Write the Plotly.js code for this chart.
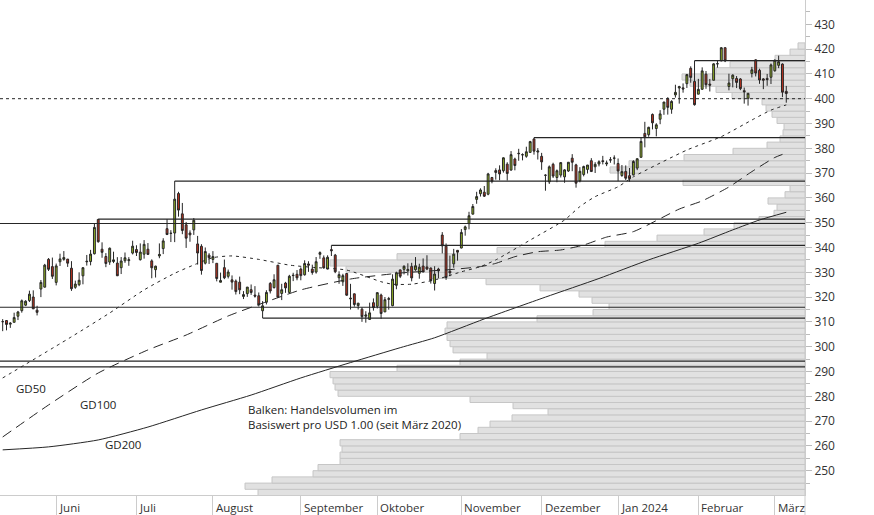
<!DOCTYPE html>
<html><head><meta charset="utf-8">
<script src="https://cdn.plot.ly/plotly-3.0.1.min.js"></script>
<style>html,body{margin:0;padding:0;background:#fff}#chart{width:874px;height:515px}</style>
</head><body><div id="chart"></div>
<script>
// ---------- Daily candles (USD) ----------
const dates = ['2023-05-11','2023-05-12','2023-05-15','2023-05-16','2023-05-17','2023-05-18','2023-05-19','2023-05-22','2023-05-23','2023-05-24','2023-05-25','2023-05-26','2023-05-30','2023-05-31',
'2023-06-01','2023-06-02','2023-06-05','2023-06-06','2023-06-07','2023-06-08','2023-06-09','2023-06-12','2023-06-13','2023-06-14','2023-06-15','2023-06-16','2023-06-20','2023-06-21','2023-06-22','2023-06-23','2023-06-26','2023-06-27','2023-06-28','2023-06-29','2023-06-30',
'2023-07-03','2023-07-05','2023-07-06','2023-07-07','2023-07-10','2023-07-11','2023-07-12','2023-07-13','2023-07-14','2023-07-17','2023-07-18','2023-07-19','2023-07-20','2023-07-21','2023-07-24','2023-07-25','2023-07-26','2023-07-27','2023-07-28','2023-07-31',
'2023-08-01','2023-08-02','2023-08-03','2023-08-04','2023-08-07','2023-08-08','2023-08-09','2023-08-10','2023-08-11','2023-08-14','2023-08-15','2023-08-16','2023-08-17','2023-08-18','2023-08-21','2023-08-22','2023-08-23','2023-08-24','2023-08-25','2023-08-28','2023-08-29','2023-08-30','2023-08-31',
'2023-09-01','2023-09-05','2023-09-06','2023-09-07','2023-09-08','2023-09-11','2023-09-12','2023-09-13','2023-09-14','2023-09-15','2023-09-18','2023-09-19','2023-09-20','2023-09-21','2023-09-22','2023-09-25','2023-09-26','2023-09-27','2023-09-28','2023-09-29',
'2023-10-02','2023-10-03','2023-10-04','2023-10-05','2023-10-06','2023-10-09','2023-10-10','2023-10-11','2023-10-12','2023-10-13','2023-10-16','2023-10-17','2023-10-18','2023-10-19','2023-10-20','2023-10-23','2023-10-24','2023-10-25','2023-10-26','2023-10-27','2023-10-30','2023-10-31',
'2023-11-01','2023-11-02','2023-11-03','2023-11-06','2023-11-07','2023-11-08','2023-11-09','2023-11-10','2023-11-13','2023-11-14','2023-11-15','2023-11-16','2023-11-17','2023-11-20','2023-11-21','2023-11-22','2023-11-24','2023-11-27','2023-11-28','2023-11-29','2023-11-30',
'2023-12-01','2023-12-04','2023-12-05','2023-12-06','2023-12-07','2023-12-08','2023-12-11','2023-12-12','2023-12-13','2023-12-14','2023-12-15','2023-12-18','2023-12-19','2023-12-20','2023-12-21','2023-12-22','2023-12-26','2023-12-27','2023-12-28','2023-12-29',
'2024-01-02','2024-01-03','2024-01-04','2024-01-05','2024-01-08','2024-01-09','2024-01-10','2024-01-11','2024-01-12','2024-01-16','2024-01-17','2024-01-18','2024-01-19','2024-01-22','2024-01-23','2024-01-24','2024-01-25','2024-01-26','2024-01-29','2024-01-30','2024-01-31',
'2024-02-01','2024-02-02','2024-02-05','2024-02-06','2024-02-07','2024-02-08','2024-02-09','2024-02-12','2024-02-13','2024-02-14','2024-02-15','2024-02-16','2024-02-20','2024-02-21','2024-02-22','2024-02-23','2024-02-26','2024-02-27','2024-02-28','2024-02-29',
'2024-03-01','2024-03-04','2024-03-05','2024-03-06'];

const open = [310.10,310.55,309.10,309.83,312.29,314.53,316.74,318.60,320.03,314.73,323.24,324.02,335.23,332.29,
325.93,334.25,335.22,335.33,331.65,323.94,324.99,328.58,334.47,334.34,337.48,351.32,339.31,336.37,334.12,334.36,333.72,331.86,334.66,334.71,337.75,
339.19,335.09,337.30,339.32,334.60,331.06,336.60,339.56,347.59,345.68,345.83,361.75,353.57,349.15,345.85,347.11,341.44,340.48,333.67,336.92,
335.19,333.63,326.00,331.88,328.37,326.96,326.47,326.02,320.26,321.39,323.00,320.80,320.54,314.49,317.93,325.50,323.82,332.85,321.47,325.66,321.88,328.67,329.20,
331.31,329.00,333.38,331.29,330.09,337.24,335.82,331.31,339.15,336.92,327.80,326.17,329.51,319.26,321.32,316.59,315.13,312.30,310.99,317.75,
316.28,320.83,314.03,319.09,316.55,324.75,330.96,331.21,330.57,332.38,331.05,329.59,332.49,332.16,331.72,325.47,331.30,345.02,340.54,330.43,333.41,338.85,
339.79,347.24,349.63,353.45,359.40,361.68,362.30,361.49,368.22,371.01,371.28,370.96,373.61,371.22,375.67,378.00,377.33,376.78,378.35,383.76,378.49,
376.76,369.10,366.45,373.54,368.23,369.20,368.48,370.85,376.02,373.31,366.85,369.45,371.49,375.00,372.56,373.68,375.00,373.69,375.37,376.00,
373.86,369.01,370.67,368.97,369.30,372.01,376.37,386.00,385.49,393.66,387.98,391.72,395.76,400.02,395.75,401.54,404.32,404.37,406.06,412.26,406.96,
401.83,403.81,409.90,405.88,407.44,414.05,415.25,420.56,404.94,408.07,408.14,407.96,403.24,400.17,410.19,415.67,411.46,407.99,408.18,408.64,
411.27,413.44,413.96,402.97];

const high = [311.12,310.65,309.90,313.71,314.43,319.04,318.75,322.59,322.72,316.50,326.90,333.40,335.74,335.94,
333.53,337.50,338.56,335.37,334.49,326.64,329.99,332.10,336.99,339.04,349.84,351.47,342.08,337.73,340.00,338.31,336.11,336.15,337.98,336.11,342.73,
340.90,341.65,342.99,341.79,335.23,332.66,341.65,343.74,351.43,346.99,366.78,362.46,357.97,350.30,346.92,351.89,344.67,341.33,340.01,337.70,
338.54,333.63,329.88,335.14,331.11,328.75,327.11,328.26,322.41,324.06,325.09,324.42,321.87,318.38,322.77,326.08,329.20,332.98,325.36,326.15,328.98,329.81,330.91,
331.99,334.85,334.46,333.08,336.16,338.42,336.79,336.85,340.86,337.40,330.40,329.39,329.59,325.35,321.45,317.67,315.88,314.30,317.75,319.47,
321.88,321.39,320.04,320.08,329.19,330.24,331.10,332.82,333.63,333.83,336.14,333.46,335.59,336.88,331.92,332.45,331.84,346.20,341.63,336.72,339.45,339.00,
347.42,348.83,354.39,357.54,362.46,363.87,364.79,370.10,368.47,371.95,373.13,376.35,374.37,378.87,376.22,379.79,377.97,380.64,383.00,384.30,380.09,
378.16,369.52,373.08,374.18,371.45,374.46,371.60,374.42,377.64,373.76,372.40,373.00,373.26,376.03,374.41,375.18,376.94,375.06,376.46,377.16,
375.90,373.26,373.10,372.06,375.20,375.99,384.17,390.68,388.68,394.03,390.11,395.40,398.67,400.62,399.38,405.63,405.20,406.17,409.98,413.05,415.32,
408.00,412.65,411.16,407.97,414.30,415.56,420.82,420.74,410.07,409.84,409.13,408.29,404.49,402.29,412.83,415.86,412.08,408.30,409.98,414.20,
415.87,417.35,414.25,405.16];

const low = [306.26,306.60,307.59,309.83,310.74,313.72,316.37,318.01,315.25,312.61,320.00,323.88,330.52,327.33,
324.72,332.55,334.66,332.17,322.50,323.35,324.41,325.16,332.71,332.81,337.20,341.95,335.86,332.07,333.00,333.70,328.49,329.30,333.81,332.62,337.20,
336.57,334.73,335.50,337.00,327.59,327.89,335.67,337.34,345.00,342.20,342.17,352.44,345.37,339.83,342.31,345.07,333.11,329.05,333.17,333.36,
333.70,326.36,325.95,327.24,327.52,323.00,321.05,321.18,319.21,320.08,320.90,319.80,316.21,311.55,317.04,321.46,323.46,319.96,318.80,321.72,321.88,326.45,326.78,
326.78,328.66,330.18,329.03,329.46,335.43,331.48,331.17,336.57,329.65,325.36,324.51,320.51,315.00,316.15,315.00,310.02,309.69,310.77,314.54,
315.42,311.21,314.00,314.93,316.30,323.16,327.67,329.14,328.72,326.36,330.60,327.41,330.66,330.91,325.45,322.66,327.60,337.62,326.94,328.40,331.83,334.69,
339.65,344.77,347.33,353.35,357.63,360.55,360.36,361.07,365.90,367.35,367.11,370.18,367.00,371.00,371.12,374.97,375.14,376.20,378.16,377.44,375.47,
371.31,362.90,365.62,368.03,366.32,368.23,366.10,370.46,370.77,364.13,366.28,368.68,369.84,370.53,370.04,372.71,373.50,372.81,374.16,373.48,
366.77,368.51,367.17,366.50,369.01,371.19,376.32,380.38,384.65,387.62,384.81,389.72,393.50,393.59,393.93,400.45,398.01,402.43,404.33,406.45,397.21,
401.80,403.56,403.99,402.91,407.40,412.53,415.09,414.75,403.39,404.57,404.29,403.44,398.01,397.22,408.57,408.97,406.00,403.85,405.22,405.92,
410.88,412.32,400.64,398.39];

const close = [310.11,308.97,309.46,311.74,314.00,318.52,318.34,321.18,315.26,313.85,325.92,332.89,331.21,328.39,
332.58,335.40,335.94,333.68,323.38,325.26,326.79,331.85,334.29,337.34,348.10,342.33,338.05,333.56,339.71,335.02,328.60,334.57,335.85,335.05,340.54,
337.99,338.15,341.27,337.22,331.83,332.47,337.20,342.66,345.24,345.73,359.49,355.08,346.87,343.77,345.11,350.98,337.77,330.72,338.37,335.92,
336.34,327.50,326.66,327.78,330.11,326.05,322.23,322.93,321.01,324.04,321.86,320.40,316.88,316.48,321.88,322.46,327.00,319.97,322.98,323.70,328.41,328.79,327.76,
328.66,333.55,332.88,329.91,334.27,337.94,331.77,336.06,338.70,330.22,329.06,328.65,320.77,319.53,317.01,317.54,312.14,312.79,313.64,315.75,
321.80,313.39,318.96,319.36,327.26,329.82,328.39,332.42,331.16,327.73,332.64,332.06,330.11,331.32,326.67,329.32,330.53,340.67,327.89,329.81,337.31,338.11,
346.07,348.32,352.80,356.53,360.53,363.20,360.69,369.67,366.68,370.27,369.67,376.17,369.85,377.44,373.07,377.85,377.43,378.61,382.70,378.85,378.91,
374.51,369.14,372.52,368.80,370.95,374.23,371.30,374.38,374.37,365.93,370.73,372.65,373.26,370.62,373.54,374.58,374.66,374.07,375.28,376.04,
370.87,370.60,367.94,367.75,374.69,375.79,382.77,384.63,388.47,390.27,389.47,393.87,398.67,396.51,398.90,402.56,404.87,403.93,409.72,408.59,397.58,
403.78,411.22,405.65,405.49,414.05,414.11,420.55,415.26,406.32,409.49,406.56,404.06,402.79,402.18,411.65,410.34,407.54,407.48,407.72,413.64,
415.50,414.92,402.65,402.09];

// ---------- Moving averages ----------
const gd50Dates = ['2023-05-11','2023-06-07','2023-06-22','2023-07-06','2023-07-18','2023-07-26','2023-08-01','2023-08-08','2023-08-17','2023-08-29','2023-09-07','2023-09-20','2023-10-03','2023-10-06','2023-10-13','2023-10-23','2023-11-01','2023-11-08','2023-11-14','2023-11-28','2023-12-11','2023-12-15','2023-12-21','2024-01-02','2024-01-08','2024-01-29','2024-02-09','2024-02-22','2024-02-29','2024-03-06'];
const gd50Values = [287.4,304.0,313.6,322.9,329.6,333.6,335.9,336.6,335.2,332.9,332.0,330.9,326.2,325.2,325.2,326.9,330.2,332.3,335.0,343.0,351.1,356.5,360.5,364.5,368.5,379.3,384.7,391.4,395.4,397.5];

const gd100Dates = ['2023-05-11','2023-05-30','2023-06-16','2023-07-07','2023-07-21','2023-08-07','2023-08-21','2023-09-01','2023-09-21','2023-10-10','2023-10-30','2023-11-08','2023-11-14','2023-11-21','2023-11-30','2023-12-08','2023-12-18','2023-12-27','2024-01-08','2024-01-25','2024-02-02','2024-02-13','2024-02-22','2024-03-01','2024-03-06'];
const gd100Values = [263.6,276.5,289.4,298.7,304.7,312.4,318.1,322.9,327.3,329.7,331.2,332.3,333.6,336.3,338.3,339.0,341.0,344.2,346.4,355.5,358.8,364.4,370.6,376.3,378.1];

const gd200Dates = ['2023-05-11','2023-05-30','2023-06-16','2023-07-07','2023-07-27','2023-08-15','2023-09-01','2023-09-21','2023-10-10','2023-10-23','2023-11-09','2023-12-04','2023-12-22','2024-01-12','2024-02-01','2024-02-14','2024-02-26','2024-03-06'];
const gd200Values = [258.4,259.6,262.4,267.6,274.5,280.5,287.4,293.6,299.6,303.6,311.2,320.0,327.5,335.0,341.7,347.1,351.1,354.2];

// ---------- Volume profile (bins of USD 2.50, relative volume) ----------
const profileLow = [240,242.5,245,247.5,250,252.5,255,257.5,260,262.5,265,267.5,270,272.5,275,277.5,280,282.5,285,287.5,290,292.5,295,297.5,300,302.5,305,307.5,310,312.5,315,317.5,320,322.5,325,327.5,330,332.5,335,337.5,340,342.5,345,347.5,350,352.5,355,357.5,360,362.5,365,367.5,370,372.5,375,377.5,380,382.5,385,387.5,390,392.5,395,397.5,400,402.5,405,407.5,410,412.5,415,417.5,420];
const profileVolume = [547,560,533,492,487,465,465,463,465,345,327,315,293,257,292,335,467,470,472,475,408,345,318,352,355,358,360,358,268,212,196,213,226,265,319,375,459,475,408,308,200,148,101,71,46,31,28,37,20,15,122,176,195,176,121,72,38,25,22,21,28,33,39,43,73,89,115,123,89,75,30,15,7];
const profileBin = 2.5;

// ---------- Horizontal levels ----------
const levelPrices = [349.67, 351.47, 366.78, 340.86, 384.30, 415.32, 311.55, 315.9, 294.2, 291.9];
const levelStarts = [null, '2023-06-16', '2023-07-18', '2023-09-14', '2023-11-29', '2024-01-31', '2023-08-18', null, null, null];
const markLevel = 400;

// ---------- Axis labels ----------
const monthStarts = ['2023-06-01','2023-07-03','2023-08-01','2023-09-01','2023-10-02','2023-11-01','2023-12-01','2024-01-02','2024-02-01','2024-03-01'];
const monthLabels = ['Juni','Juli','August','September','Oktober','November','Dezember','Jan 2024','Februar','März'];

// ---------- Build ----------
const idx = d => dates.indexOf(d);
const xi = dates.map((d, i) => i);
const X_MIN = -0.7, X_MAX = 209.9;
const FONT = 'Open Sans, Noto Sans, sans-serif';
const INK = '#262626';

const traces = [
  {
    type: 'bar', orientation: 'h', xaxis: 'x', yaxis: 'y',
    y: profileLow.map(v => v + profileBin / 2), x: profileVolume, width: profileBin,
    marker: {color: '#e1e1e1', line: {color: '#c6c6c6', width: 1}},
    hoverinfo: 'skip', showlegend: false
  },
  {
    type: 'scatter', mode: 'lines', xaxis: 'x2', yaxis: 'y',
    x: gd200Dates.map(idx), y: gd200Values, line: {color: INK, width: 1, shape: 'spline', smoothing: 0.6},
    hoverinfo: 'skip', showlegend: false
  },
  {
    type: 'scatter', mode: 'lines', xaxis: 'x2', yaxis: 'y',
    x: gd100Dates.map(idx), y: gd100Values,
    line: {color: INK, width: 1, dash: '10px,6px', shape: 'spline', smoothing: 0.6}, hoverinfo: 'skip', showlegend: false
  },
  {
    type: 'scatter', mode: 'lines', xaxis: 'x2', yaxis: 'y',
    x: gd50Dates.map(idx), y: gd50Values,
    line: {color: INK, width: 1, dash: '3px,4px', shape: 'spline', smoothing: 0.6}, hoverinfo: 'skip', showlegend: false
  },
  {
    type: 'candlestick', xaxis: 'x2', yaxis: 'y',
    x: xi, open: open, high: high, low: low, close: close,
    increasing: {line: {color: INK, width: 1}, fillcolor: '#93b424'},
    decreasing: {line: {color: INK, width: 1}, fillcolor: '#c0331f'},
    whiskerwidth: 0, hoverinfo: 'skip', showlegend: false
  }
];

const shapes = [];
levelPrices.forEach((p, i) => {
  const s = levelStarts[i];
  if (s === null) {
    shapes.push({type: 'line', xref: 'paper', yref: 'y', x0: 0, x1: 1, y0: p, y1: p, line: {color: INK, width: 1.2}});
  } else {
    shapes.push({type: 'line', xref: 'x2', yref: 'y', x0: idx(s), x1: X_MAX, y0: p, y1: p, line: {color: INK, width: 1.2}});
  }
});
shapes.push({type: 'line', xref: 'paper', yref: 'y', x0: 0, x1: 1, y0: markLevel, y1: markLevel, line: {color: INK, width: 1, dash: '3px,3px'}});
// y-axis line continues through the date-label strip
shapes.push({type: 'line', xref: 'paper', yref: 'paper', x0: 1, x1: 1, y0: -0.045, y1: 0, line: {color: '#cccccc', width: 1}});

const annotations = monthStarts.map((d, i) => ({
  xref: 'x2', yref: 'paper', x: idx(d), y: -0.025, xanchor: 'left', yanchor: 'middle', xshift: 1,
  text: monthLabels[i], showarrow: false, font: {family: FONT, size: 11.5, color: '#333'}
}));
const txt = (t, px, py) => ({xref: 'paper', yref: 'paper', x: px / 805, y: 1 - py / 495, xanchor: 'left', yanchor: 'middle',
  text: t, showarrow: false, align: 'left', font: {family: FONT, size: 11.5, color: '#222'}});
annotations.push(txt('GD50', 14, 388));
annotations.push(txt('GD100', 78, 404));
annotations.push(txt('GD200', 103, 444));
annotations.push(txt('Balken: Handelsvolumen im<br>Basiswert pro USD 1.00 (seit März 2020)', 246, 417));

const layout = {
  width: 874, height: 515,
  margin: {l: 0, r: 69, t: 0, b: 20},
  paper_bgcolor: '#ffffff', plot_bgcolor: '#ffffff',
  font: {family: FONT, size: 12, color: '#333'},
  showlegend: false, bargap: 0, dragmode: false,
  xaxis: {range: [805, 0], visible: false, fixedrange: true},
  xaxis2: {
    overlaying: 'x', side: 'bottom', range: [X_MIN, X_MAX], fixedrange: true,
    showgrid: false, zeroline: false, rangeslider: {visible: false},
    showline: true, linecolor: '#cccccc', linewidth: 1,
    tickmode: 'array', tickvals: monthStarts.map(idx), ticktext: monthStarts.map(() => ''),
    ticks: 'outside', ticklen: 20, tickcolor: '#cccccc', tickwidth: 1, showticklabels: false
  },
  yaxis: {
    side: 'right', range: [240.2, 439.8], fixedrange: true,
    showgrid: false, zeroline: false,
    showline: true, linecolor: '#cccccc', linewidth: 1,
    tickmode: 'linear', tick0: 250, dtick: 10,
    ticks: 'outside', ticklen: 6, tickcolor: '#bbbbbb', tickwidth: 1,
    minor: {tickmode: 'linear', tick0: 245, dtick: 10, ticks: 'outside', ticklen: 4, tickcolor: '#bbbbbb'},
    tickfont: {family: FONT, size: 12, color: '#333'}
  },
  shapes: shapes,
  annotations: annotations
};

Plotly.newPlot('chart', traces, layout, {staticPlot: true, displayModeBar: false});
</script></body></html>
